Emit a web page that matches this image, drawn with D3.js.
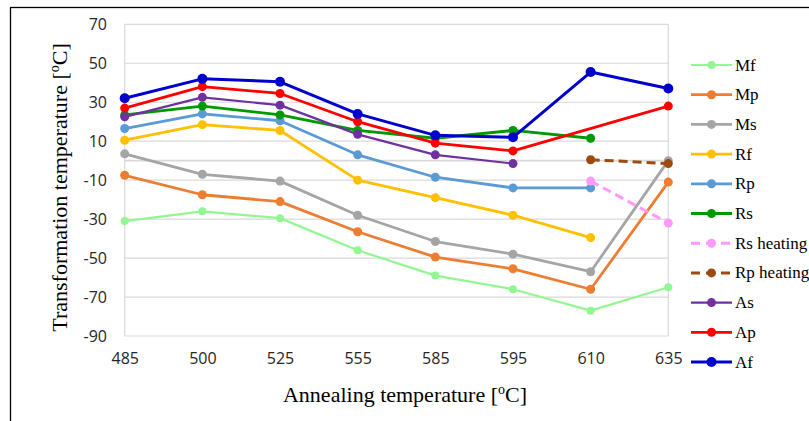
<!DOCTYPE html>
<html>
<head>
<meta charset="utf-8">
<script src="https://cdn.jsdelivr.net/npm/d3@7"></script>
<style>
  body { margin: 0; background: #fff; }
  svg { display: block; }
</style>
</head>
<body>
<svg id="chart" width="809" height="421"></svg>
<script>
const categories = ['485', '500', '525', '555', '585', '595', '610', '635'];
const yTicks = [-90, -70, -50, -30, -10, 10, 30, 50, 70];

const mf = [-31, -26, -29.5, -46, -59, -66, -77, -65];
const mp = [-7.5, -17.5, -21, -36.5, -49.5, -55.5, -66, -11];
const ms = [3.5, -7, -10.5, -28, -41.5, -48, -57, 0];
const rf = [10.5, 18.5, 15.5, -10, -19, -28, -39.5, null];
const rp = [16.5, 24, 20.5, 3, -8.5, -14, -14, null];
const rs = [23.5, 28, 23.5, 15.5, 11.5, 15.5, 11.5, null];
const rsHeating = [null, null, null, null, null, null, -10.5, -32];
const rpHeating = [null, null, null, null, null, null, 0.5, -1.5];
const as = [22.5, 32.5, 28.5, 13.5, 3, -1.5, null, null];
const ap = [27, 38, 34.5, 20, 9, 5, null, 28];
const af = [32, 42, 40.5, 24, 13, 12, 45.5, 37];

const seriesNames = ['Mf', 'Mp', 'Ms', 'Rf', 'Rp', 'Rs', 'Rs heating', 'Rp heating', 'As', 'Ap', 'Af'];
const seriesValues = [mf, mp, ms, rf, rp, rs, rsHeating, rpHeating, as, ap, af];
const seriesColors = ['#92f792', '#ed7d31', '#a5a5a5', '#ffc000', '#5b9bd5', '#009a00',
  '#ff99ff', '#9c4a0f', '#7030a0', '#ff0000', '#0000cc'];

const styles = {
  'Mf': { w: 2.2, r: 4 },
  'As': { w: 2.2, r: 4.5 },
  'Rs heating': { w: 3, r: 4.5, dash: '9,5' },
  'Rp heating': { w: 3, r: 4.5, dash: '9,5' },
  'Af': { w: 3, r: 5 }
};
const styleOf = name => Object.assign({ w: 2.8, r: 4.5, dash: null }, styles[name] || {});

const svg = d3.select('svg#chart');

// outer frame
svg.append('rect')
  .attr('x', 10.5).attr('y', 7.5)
  .attr('width', 900).attr('height', 500)
  .attr('fill', 'none').attr('stroke', '#000').attr('stroke-width', 1.3);

const x = d3.scalePoint().domain(categories).range([124.7, 668.3]);
const y = d3.scaleLinear().domain([-90, 70]).range([336, 24.3]);

const grid = svg.append('g');
grid.selectAll('line.h').data(yTicks.concat([0]))
  .enter().append('line')
    .attr('x1', x.range()[0]).attr('x2', x.range()[1])
    .attr('y1', d => y(d)).attr('y2', d => y(d))
    .attr('stroke', '#d9d9d9').attr('stroke-width', d => d === 0 ? 1.6 : 1.2);
grid.selectAll('line.v').data(x.range())
  .enter().append('line')
    .attr('x1', d => d).attr('x2', d => d)
    .attr('y1', y(70)).attr('y2', y(-90))
    .attr('stroke', '#d9d9d9').attr('stroke-width', 1.2);

// axes
const yAxis = svg.append('g')
  .attr('transform', 'translate(107,0)')
  .call(d3.axisLeft(y).tickValues(yTicks).tickFormat(d => String(d)).tickSize(0).tickPadding(0));
const xAxis = svg.append('g')
  .attr('transform', 'translate(0,353)')
  .call(d3.axisBottom(x).tickSize(0).tickPadding(0));
[yAxis, xAxis].forEach(g => {
  g.select('.domain').remove();
  g.selectAll('text')
    .attr('font-family', '"Open Sans", sans-serif')
    .attr('font-size', 16)
    .attr('fill', '#262626');
});
xAxis.selectAll('text').attr('dy', '0.71em');

// axis titles
const xTitle = svg.append('text')
  .attr('x', 405).attr('y', 401.5)
  .attr('text-anchor', 'middle')
  .attr('font-family', '"Liberation Serif", serif')
  .attr('font-size', 22).attr('fill', '#000');
xTitle.append('tspan').text('Annealing temperature [');
xTitle.append('tspan').attr('font-size', 14).attr('dy', -8).text('o');
xTitle.append('tspan').attr('dy', 8).text('C]');

const yTitle = svg.append('text')
  .attr('transform', 'translate(67,187.5) rotate(-90)')
  .attr('text-anchor', 'middle')
  .attr('font-family', '"Liberation Serif", serif')
  .attr('font-size', 22).attr('fill', '#000');
yTitle.append('tspan').text('Transformation temperature [');
yTitle.append('tspan').attr('font-size', 14).attr('dy', -8).text('o');
yTitle.append('tspan').attr('dy', 8).text('C]');

// series
const line = d3.line().x(d => x(d.c)).y(d => y(d.v));
seriesNames.forEach((name, i) => {
  const st = styleOf(name);
  const pts = seriesValues[i]
    .map((v, j) => ({ c: categories[j], v: v }))
    .filter(d => d.v !== null);
  const g = svg.append('g');
  g.append('path')
    .attr('d', line(pts))
    .attr('fill', 'none')
    .attr('stroke', seriesColors[i])
    .attr('stroke-width', st.w)
    .attr('stroke-dasharray', st.dash)
    .attr('stroke-linejoin', 'round');
  g.selectAll('circle').data(pts)
    .enter().append('circle')
      .attr('cx', d => x(d.c)).attr('cy', d => y(d.v))
      .attr('r', st.r)
      .attr('fill', seriesColors[i]);
});

// legend
const legend = svg.append('g');
seriesNames.forEach((name, i) => {
  const st = styleOf(name);
  const ly = 65 + i * 29.7;
  const item = legend.append('g').attr('transform', `translate(0,${ly})`);
  item.append('line')
    .attr('x1', 691).attr('x2', 732)
    .attr('stroke', seriesColors[i])
    .attr('stroke-width', st.w)
    .attr('stroke-dasharray', st.dash ? '9,6' : null);
  item.append('circle')
    .attr('cx', 711.5).attr('r', st.r)
    .attr('fill', seriesColors[i]);
  item.append('text')
    .attr('x', 735).attr('y', 5.5)
    .attr('font-family', '"Liberation Serif", serif')
    .attr('font-size', 17).attr('fill', '#000')
    .text(name);
});
</script>
</body>
</html>
